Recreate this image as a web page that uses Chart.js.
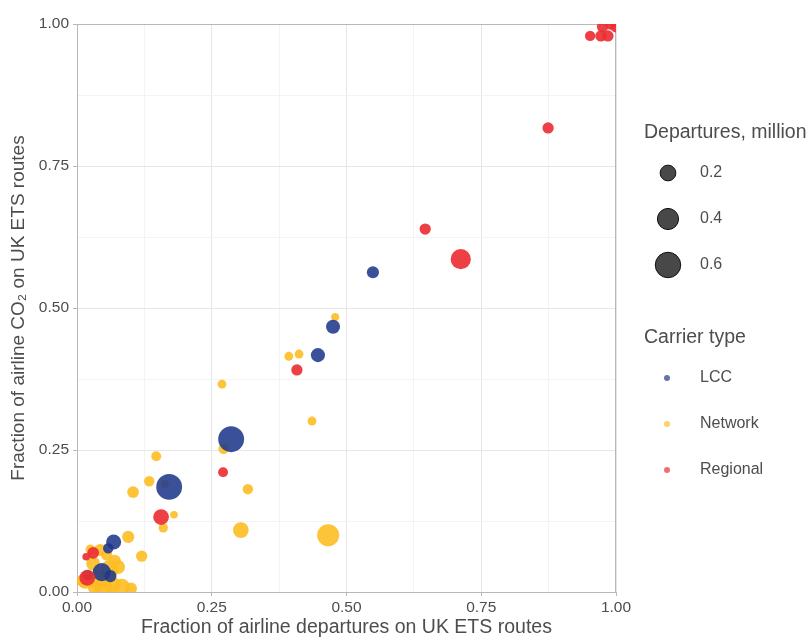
<!DOCTYPE html>
<html>
<head>
<meta charset="utf-8">
<script src="https://cdn.jsdelivr.net/npm/chart.js@4/dist/chart.umd.min.js"></script>
<style>
  html, body { margin: 0; padding: 0; background: #fff; }
  #wrap { width: 809px; height: 637px; }
</style>
</head>
<body>
<div id="wrap"><canvas id="c" width="809" height="637"></canvas></div>
<script>
// departures share (x), CO2 share (y), departures in million (d)
const lccX = [0.549, 0.475, 0.447, 0.286, 0.171, 0.068, 0.058, 0.046, 0.020, 0.062];
const lccY = [0.563, 0.467, 0.417, 0.269, 0.185, 0.088, 0.077, 0.035, 0.030, 0.028];
const lccD = [0.10, 0.15, 0.15, 0.62, 0.62, 0.18, 0.06, 0.28, 0.06, 0.10];

const netX = [0.479, 0.393, 0.412, 0.436, 0.466, 0.269, 0.272, 0.317, 0.304, 0.147, 0.134, 0.104, 0.163, 0.180, 0.160, 0.095, 0.120,
              0.043, 0.076, 0.083, 0.015, 0.050, 0.030, 0.060, 0.040, 0.010, 0.070, 0.025, 0.100, 0.055, 0.035, 0.065];
const netY = [0.484, 0.415, 0.419, 0.301, 0.100, 0.366, 0.252, 0.181, 0.109, 0.239, 0.195, 0.176, 0.190, 0.136, 0.113, 0.097, 0.063,
              0.074, 0.044, 0.009, 0.018, 0.006, 0.050, 0.040, 0.022, 0.020, 0.055, 0.075, 0.006, 0.065, 0.008, 0.012];
const netD = [0.02, 0.03, 0.03, 0.03, 0.44, 0.03, 0.06, 0.06, 0.20, 0.05, 0.06, 0.09, 0.02, 0.01, 0.04, 0.10, 0.08,
              0.10, 0.15, 0.22, 0.15, 0.35, 0.15, 0.28, 0.35, 0.10, 0.10, 0.05, 0.10, 0.08, 0.20, 0.25];

const regX = [0.952, 0.972, 0.985, 0.975, 0.990, 1.000, 0.874, 0.646, 0.712, 0.408, 0.271, 0.156, 0.017, 0.030, 0.019];
const regY = [0.979, 0.979, 0.979, 0.995, 1.000, 0.995, 0.817, 0.639, 0.586, 0.391, 0.211, 0.132, 0.062, 0.069, 0.025];
const regD = [0.06, 0.08, 0.08, 0.08, 0.08, 0.08, 0.08, 0.08, 0.36, 0.08, 0.05, 0.20, 0.01, 0.09, 0.20];

const sizeBreaks = [0.2, 0.4, 0.6];
const carrierTypes = ['LCC', 'Network', 'Regional'];
const carrierColors = ['rgba(31,56,138,0.88)', 'rgba(253,188,36,0.9)', 'rgba(234,48,52,0.92)'];
const keyColors = ['rgba(31,56,138,0.7)', 'rgba(253,188,36,0.7)', 'rgba(234,48,52,0.7)'];

const FONT = '"Liberation Sans", Arial, sans-serif';
const TXT = '#4d4d4d';

function radius(d) { return Math.sqrt(12 + 250 * d); }
function pts(xs, ys, ds) { return xs.map((x, i) => ({x: x, y: ys[i], r: radius(ds[i])})); }

const legendPlugin = {
  id: 'gglegend',
  beforeDatasetsDraw(chart) {
    const a = chart.chartArea, ctx = chart.ctx;
    ctx.save();
    ctx.strokeStyle = '#b8b8b8';
    ctx.lineWidth = 1;
    ctx.strokeRect(a.left + 0.5, a.top + 0.5, a.right - a.left - 1, a.bottom - a.top);
    ctx.restore();
  },
  afterDraw(chart) {
    const ctx = chart.ctx;
    ctx.save();
    ctx.textBaseline = 'middle';
    ctx.textAlign = 'left';
    ctx.fillStyle = TXT;
    ctx.font = '19.5px ' + FONT;
    ctx.fillText('Departures, million', 644, 133);
    sizeBreaks.forEach((b, i) => {
      const y = 173 + i * 46;
      ctx.beginPath();
      ctx.arc(668, y, radius(b), 0, Math.PI * 2);
      ctx.fillStyle = 'rgba(40,40,40,0.85)';
      ctx.fill();
      ctx.strokeStyle = '#111';
      ctx.lineWidth = 1;
      ctx.stroke();
      ctx.fillStyle = TXT;
      ctx.font = '16px ' + FONT;
      ctx.fillText(b.toFixed(1), 700, y);
    });
    ctx.font = '19.5px ' + FONT;
    ctx.fillText('Carrier type', 644, 338);
    carrierTypes.forEach((t, i) => {
      const y = 378 + i * 46;
      ctx.beginPath();
      ctx.arc(667, y, 3, 0, Math.PI * 2);
      ctx.fillStyle = keyColors[i];
      ctx.fill();
      ctx.fillStyle = TXT;
      ctx.font = '16px ' + FONT;
      ctx.fillText(t, 700, y);
    });
    ctx.restore();
  }
};

const tickCb = v => (Math.abs(v * 4 - Math.round(v * 4)) < 1e-9 ? v.toFixed(2) : '');
const gridColor = c => (c.index % 2 === 0 ? '#e6e6e6' : '#f3f3f3');
const tickColor = c => (c.index % 2 === 0 ? '#b8b8b8' : 'rgba(0,0,0,0)');

new Chart(document.getElementById('c').getContext('2d'), {
  type: 'bubble',
  data: {
    datasets: [
      {label: 'Regional', data: pts(regX, regY, regD), backgroundColor: carrierColors[2], borderWidth: 0, order: 0, clip: 0},
      {label: 'LCC', data: pts(lccX, lccY, lccD), backgroundColor: carrierColors[0], borderWidth: 0, order: 1, clip: 0},
      {label: 'Network', data: pts(netX, netY, netD), backgroundColor: carrierColors[1], borderWidth: 0, order: 2, clip: 0}
    ]
  },
  options: {
    responsive: false,
    animation: false,
    events: [],
    layout: {padding: {left: 0, right: 193, top: 24, bottom: 0}},
    plugins: {legend: {display: false}, tooltip: {enabled: false}},
    scales: {
      x: {
        type: 'linear', min: 0, max: 1,
        afterFit: s => { s.height = 45; },
        ticks: {stepSize: 0.125, callback: tickCb, color: TXT, font: {family: FONT, size: 15.5}, maxRotation: 0, autoSkip: false, padding: 2},
        grid: {color: gridColor, tickColor: tickColor, tickLength: 4},
        border: {color: '#b8b8b8'},
        title: {display: true, text: 'Fraction of airline departures on UK ETS routes', color: TXT, font: {family: FONT, size: 19.5}, padding: {top: 0, bottom: -2}}
      },
      y: {
        type: 'linear', min: 0, max: 1,
        afterFit: s => { s.width = 77; },
        ticks: {stepSize: 0.125, callback: tickCb, color: TXT, font: {family: FONT, size: 15.5}, autoSkip: false, padding: 4},
        grid: {color: gridColor, tickColor: tickColor, tickLength: 4},
        border: {color: '#b8b8b8'},
        title: {display: true, text: 'Fraction of airline CO₂ on UK ETS routes', color: TXT, font: {family: FONT, size: 19}, padding: {top: 7, bottom: 0}}
      }
    }
  },
  plugins: [legendPlugin]
});
</script>
</body>
</html>
